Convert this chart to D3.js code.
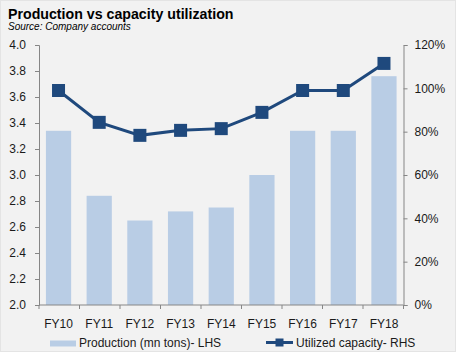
<!DOCTYPE html>
<html>
<head>
<meta charset="utf-8">
<script src="https://cdn.jsdelivr.net/npm/d3@7"></script>
<style>
html,body{margin:0;padding:0;background:#fff;}
text{font-family:Arial,"Liberation Sans",sans-serif;}
</style>
</head>
<body>
<svg id="chart" width="459" height="356"></svg>
<script>
const categories = ["FY10","FY11","FY12","FY13","FY14","FY15","FY16","FY17","FY18"];
const production = [3.34, 2.84, 2.65, 2.72, 2.75, 3.00, 3.34, 3.34, 3.76];
const utilization = [0.99, 0.843, 0.783, 0.806, 0.814, 0.889, 0.99, 0.99, 1.115];
const leftTicks = [2.0,2.2,2.4,2.6,2.8,3.0,3.2,3.4,3.6,3.8,4.0];
const rightTicks = [0,0.2,0.4,0.6,0.8,1.0,1.2];
const seriesNames = ["Production (mn tons)- LHS","Utilized capacity- RHS"];

const svg = d3.select("#chart");
const barColor = "#B9CDE5", lineColor = "#1F497D", axisColor = "#868686", textColor = "#1a1a1a";

svg.append("rect").attr("x",0.5).attr("y",0.5).attr("width",455).attr("height",351)
  .attr("fill","#F2F2F2").attr("stroke","#E4E4E4");

svg.append("text").attr("x",8).attr("y",19).attr("font-size","14.2px").attr("font-weight","bold")
  .attr("fill","#000").text("Production vs capacity utilization");
svg.append("text").attr("x",8).attr("y",29.5).attr("font-size","10px").attr("font-style","italic")
  .attr("fill","#000").text("Source: Company accounts");

const L = 39, R = 403.5, T = 45, B = 305;
const x = d3.scaleBand().domain(categories).range([L,R]).paddingInner(0.38).paddingOuter(0.17);
const y = d3.scaleLinear().domain([2,4]).range([B,T]);
const y2 = d3.scaleLinear().domain([0,1.2]).range([B,T]);

// bars
svg.append("g").selectAll("rect").data(categories).join("rect")
  .attr("x",d=>x(d)).attr("width",x.bandwidth())
  .attr("y",(d,i)=>y(production[i])).attr("height",(d,i)=>B-y(production[i]))
  .attr("fill",barColor);

// axes
function styleAxis(g){
  g.selectAll("path,line").attr("stroke",axisColor);
  g.selectAll("text").attr("fill",textColor).attr("font-size","12px").attr("font-family","Arial,'Liberation Sans',sans-serif");
}
const gl = svg.append("g").attr("transform",`translate(${L},0)`)
  .call(d3.axisLeft(y).tickValues(leftTicks).tickFormat(d3.format(".1f")).tickSizeOuter(0).tickSize(4).tickPadding(9));
styleAxis(gl);
const gr = svg.append("g").attr("transform",`translate(${R},0)`)
  .call(d3.axisRight(y2).tickValues(rightTicks).tickFormat(d3.format(".0%")).tickSizeOuter(0).tickSize(4).tickPadding(7));
styleAxis(gr);

// x axis line with boundary ticks
const gx = svg.append("g").attr("transform",`translate(0,${B})`)
  .call(d3.axisBottom(x).tickSize(0).tickPadding(14));
styleAxis(gx);
gx.select(".domain").remove();
gx.append("line").attr("x1",L).attr("x2",R).attr("stroke",axisColor);
const bounds = d3.range(categories.length+1).map(i=>L + i*(R-L)/categories.length);
gx.selectAll(".bt").data(bounds).join("line").attr("class","bt")
  .attr("x1",d=>d).attr("x2",d=>d).attr("y1",0).attr("y2",4).attr("stroke",axisColor);

// line
const cx = d=>x(d)+x.bandwidth()/2;
const line = d3.line().x((d,i)=>cx(categories[i])).y(d=>y2(d));
svg.append("path").datum(utilization).attr("d",line).attr("fill","none")
  .attr("stroke",lineColor).attr("stroke-width",3);
svg.append("g").selectAll("rect").data(utilization).join("rect")
  .attr("x",(d,i)=>cx(categories[i])-6.5).attr("y",d=>y2(d)-6.5)
  .attr("width",13).attr("height",13).attr("fill",lineColor);

// legend
const lg = svg.append("g").attr("font-size","12px");
lg.append("rect").attr("x",50).attr("y",340.5).attr("width",26).attr("height",6).attr("fill",barColor);
lg.append("text").attr("x",79).attr("y",347).attr("fill",textColor).text(seriesNames[0]);
lg.append("line").attr("x1",266).attr("x2",293).attr("y1",342.5).attr("y2",342.5).attr("stroke",lineColor).attr("stroke-width",3);
lg.append("rect").attr("x",275.5).attr("y",338.5).attr("width",8).attr("height",8).attr("fill",lineColor);
lg.append("text").attr("x",296).attr("y",347).attr("fill",textColor).text(seriesNames[1]);
</script>
</body>
</html>
